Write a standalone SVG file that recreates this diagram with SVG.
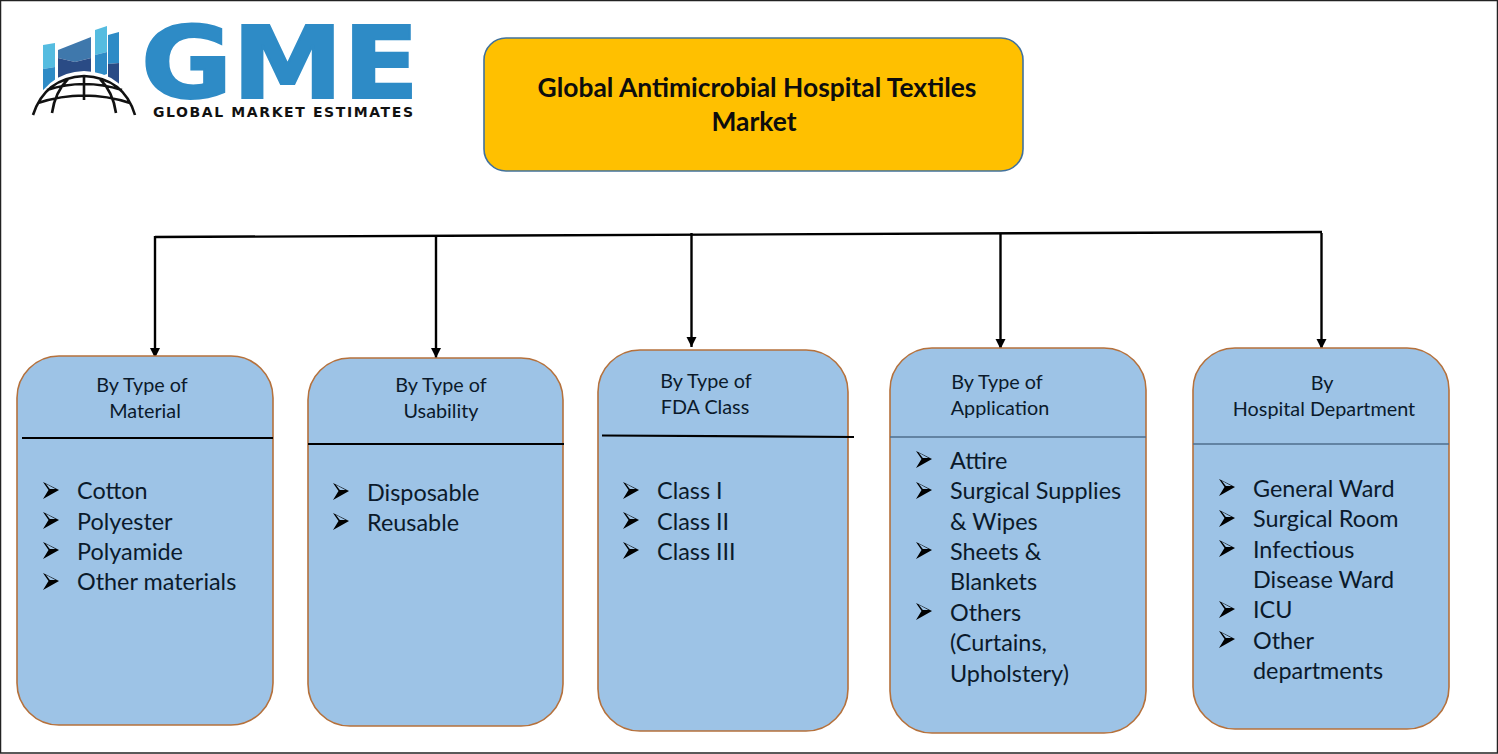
<svg xmlns="http://www.w3.org/2000/svg" width="1498" height="754" viewBox="0 0 1498 754">
<style>
text{font-family:Lato,"Liberation Sans",sans-serif;fill:#0b1a2b}
.h{font-size:19.8px;text-anchor:middle}
.i{font-size:23.4px}
.box{fill:#9dc3e6;stroke:#b5713c;stroke-width:1.6}
.sep{stroke:#000;stroke-width:2.2;fill:none}
.sep2{stroke:#4f6e8c;stroke-width:1.5;fill:none}
.con{stroke:#000;stroke-width:2.4;fill:none}
.arr{stroke:#000;stroke-width:2.4;fill:none;marker-end:url(#ah)}
.bl{fill:#2e8bc6}.lb{fill:#55bce0}.md{fill:#3f78ac}.dk{fill:#2a4b85}
.gl{fill:none;stroke:#111;stroke-width:2.6}
</style>
<defs>
<marker id="ah" markerUnits="userSpaceOnUse" markerWidth="12" markerHeight="12" refX="10" refY="5" orient="auto"><path d="M0 0L10 5L0 10z" fill="#000"/></marker>
<g id="bullet"><path d="M0 -1L16 7L0 16L5.500 7z" fill="#000"/><path d="M2.800 0.800L12.500 6L6.800 6z" fill="#9dc3e6"/></g>
</defs>
<rect x="0.5" y="0.5" width="1497" height="752.5" fill="#fff" stroke="#222" stroke-width="1.5"/>
<g id="logo">
<path class="lb" d="M43 45L55 43V67L43 69z"/><path class="bl" d="M43 69L55 67V84L43 90z"/>
<path class="md" d="M58 50L91 37V58L75 62L58 58z"/><path class="dk" d="M58 58L75 62L91 58V75L58 80z"/>
<path class="lb" d="M95 30L107 26V52L95 55z"/><path class="bl" d="M95 55L107 52V74L95 78z"/>
<path class="bl" d="M108 35L119 32V63L108 64z"/><path class="dk" d="M108 64L119 63V86L108 80z"/>
<path d="M30 115Q45 72 84 71Q124 72 138 115z" fill="#fff"/>
<path class="gl" d="M33 115Q45 78 84 76Q124 78 135 115M47 90Q84 78 122 90M38 103Q84 88 130 103M84 76V100M68 79Q55 92 52 113M100 79Q113 92 116 113"/>
<text x="141" y="98" font-size="100" font-weight="700" textLength="278" lengthAdjust="spacingAndGlyphs" stroke="#2e8bc6" stroke-width="2" style="fill:#2e8bc6;font-family:'DejaVu Sans',sans-serif">GME</text>
<text x="153" y="117" font-size="14" font-weight="700" textLength="260" lengthAdjust="spacing" style="fill:#111;font-family:'DejaVu Sans',sans-serif">GLOBAL MARKET ESTIMATES</text>
</g>
<g id="title">
<rect x="484" y="38" width="539" height="133" rx="22" fill="#ffc000" stroke="#41719c" stroke-width="1.6"/>
<text x="757" y="97" font-size="26.4" font-weight="700" text-anchor="middle" style="fill:#0d0d0d">Global Antimicrobial Hospital Textiles</text>
<text x="754" y="131" font-size="26.4" font-weight="700" text-anchor="middle" style="fill:#0d0d0d">Market</text>
</g>
<g id="connectors">
<path class="con" d="M155 237L1322 232"/>
<path class="arr" d="M155 236V358"/>
<path class="arr" d="M436 237V358"/>
<path class="arr" d="M691.500 233V347"/>
<path class="arr" d="M1000.500 234V349"/>
<path class="arr" d="M1321.500 233V349"/>
</g>
<g id="node-material">
<rect class="box" x="17" y="356" width="256" height="369" rx="42"/>
<path class="sep" d="M22 438H273"/>
<text class="h" x="142" y="392">By Type of</text><text class="h" x="145" y="418">Material</text>
<use href="#bullet" x="43" y="483"/><text class="i" x="77" y="499">Cotton</text>
<use href="#bullet" x="43" y="513"/><text class="i" x="77" y="530">Polyester</text>
<use href="#bullet" x="43" y="543"/><text class="i" x="77" y="560">Polyamide</text>
<use href="#bullet" x="43" y="574"/><text class="i" x="77" y="590">Other materials</text>
</g>
<g id="node-usability">
<rect class="box" x="308" y="358" width="255" height="368" rx="42"/>
<path class="sep" d="M308 444H564"/>
<text class="h" x="441" y="392">By Type of</text><text class="h" x="441" y="418">Usability</text>
<use href="#bullet" x="333" y="484"/><text class="i" x="367" y="501">Disposable</text>
<use href="#bullet" x="333" y="514"/><text class="i" x="367" y="531">Reusable</text>
</g>
<g id="node-fda">
<rect class="box" x="598" y="350" width="250" height="381" rx="42"/>
<path class="sep" d="M602 435.500L854 437"/>
<text class="h" x="706" y="388">By Type of</text><text class="h" x="705" y="414">FDA Class</text>
<use href="#bullet" x="623" y="483"/><text class="i" x="657" y="499">Class I</text>
<use href="#bullet" x="623" y="513"/><text class="i" x="657" y="530">Class II</text>
<use href="#bullet" x="623" y="543"/><text class="i" x="657" y="560">Class III</text>
</g>
<g id="node-application">
<rect class="box" x="890" y="348" width="256" height="385" rx="42"/>
<path class="sep2" d="M890 437H1146"/>
<text class="h" x="997" y="389">By Type of</text><text class="h" x="1000" y="415">Application</text>
<use href="#bullet" x="916" y="452"/><text class="i" x="950" y="469">Attire</text>
<use href="#bullet" x="916" y="483"/><text class="i" x="950" y="499">Surgical Supplies</text>
<text class="i" x="950" y="530">&amp; Wipes</text>
<use href="#bullet" x="916" y="543"/><text class="i" x="950" y="560">Sheets &amp;</text>
<text class="i" x="950" y="590">Blankets</text>
<use href="#bullet" x="916" y="604"/><text class="i" x="950" y="621">Others</text>
<text class="i" x="950" y="651">(Curtains,</text>
<text class="i" x="950" y="682">Upholstery)</text>
</g>
<g id="node-department">
<rect class="box" x="1193" y="348" width="256" height="381" rx="42"/>
<path class="sep2" d="M1193 444H1449"/>
<text class="h" x="1322" y="390">By</text><text class="h" x="1324" y="416">Hospital Department</text>
<use href="#bullet" x="1219" y="480"/><text class="i" x="1253" y="497">General Ward</text>
<use href="#bullet" x="1219" y="511"/><text class="i" x="1253" y="527">Surgical Room</text>
<use href="#bullet" x="1219" y="541"/><text class="i" x="1253" y="558">Infectious</text>
<text class="i" x="1253" y="588">Disease Ward</text>
<use href="#bullet" x="1219" y="602"/><text class="i" x="1253" y="618">ICU</text>
<use href="#bullet" x="1219" y="632"/><text class="i" x="1253" y="649">Other</text>
<text class="i" x="1253" y="679">departments</text>
</g>
</svg>
